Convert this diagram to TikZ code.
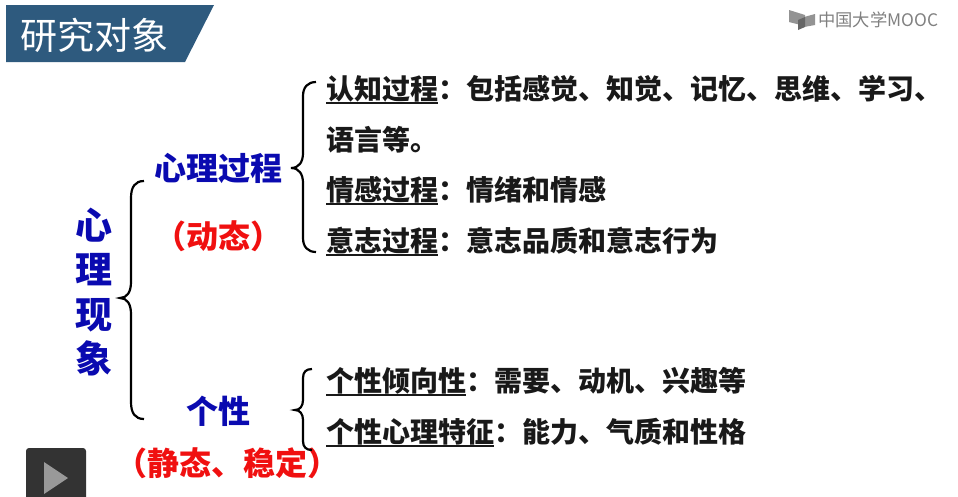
\documentclass[tikz,border=0pt]{standalone}
\usepackage{fontspec}
\setmainfont{Noto Sans CJK SC}
\usetikzlibrary{positioning}
\definecolor{headblue}{HTML}{2E5A7E}
\definecolor{termblue}{HTML}{0A0AB0}
\definecolor{termred}{HTML}{F01010}
\definecolor{logogray}{HTML}{808080}
\newcommand{\termline}[1]{\setbox0\hbox{#1}\rlap{\rule[-4.2pt]{\wd0}{1.5pt}}\box0}

\begin{document}
\begin{tikzpicture}[
    x=1pt, y=-1pt,
    body/.style={anchor=west, inner sep=0pt, text height=24.6pt, text depth=3.4pt, font=\fontsize{28}{28}\selectfont\bfseries, text=black!90},
    branch/.style={inner sep=0pt, text height=28.2pt, text depth=3.8pt, font=\fontsize{32}{32}\selectfont\bfseries, text=termblue},
    note/.style={branch, text=termred},
    rootword/.style={inner sep=0pt, text height=32.6pt, text depth=4.4pt, font=\fontsize{37}{37}\selectfont\bfseries, text=termblue},
    bracket/.style={draw=black, line width=2.2pt}
]
\useasboundingbox (0,0) rectangle (958,496);

% Title bar
\fill[headblue] (6,5) -- (214,5) -- (185,62) -- (6,62) -- cycle;
\node[anchor=west, inner sep=0pt, text=white, font=\fontsize{37}{37}\selectfont] (title) at (20,35) {研究对象};

% Logo
\fill[logogray!85] (789,10) -- (805,15) -- (805,26) -- (789,22) -- cycle;
\fill[logogray!85] (804,17) -- (815,14) -- (815,25) -- (804,27) -- cycle;
\fill[black!60] (798,20) -- (805,17) -- (805,27) -- (798,30) -- cycle;
\node[anchor=west, inner sep=0pt, text=logogray, font=\fontsize{17.3}{18}\selectfont] (logo) at (818,20) {中国大学MOOC};

% Root
\node[rootword] (root1) at (94,225) {心};
\node[rootword] (root2) at (94,269) {理};
\node[rootword] (root3) at (94,314) {现};
\node[rootword] (root4) at (94,358) {象};

% Branches
\node[branch] (process) at (218,168) {心理过程};
\node[note] (dynamic) at (218,236) {（动态）};
\node[branch] (person) at (218,411) {个性};
\node[note] (stable) at (227,463) {（静态、稳定）};

% Brackets
\draw[bracket] (144,181) .. controls (135,181) and (131,187) .. (131,198) -- (131,282)
    .. controls (131,292) and (127,298) .. (120,298) .. controls (127,298) and (131,304) .. (131,314)
    -- (131,402) .. controls (131,413) and (135,419) .. (144,419);
\draw[bracket] (316,82) .. controls (308,82) and (303,87) .. (303,96) -- (303,153)
    .. controls (303,162) and (299,168) .. (291,168) .. controls (299,168) and (303,174) .. (303,183)
    -- (303,238) .. controls (303,247) and (308,252) .. (316,252);
\draw[bracket] (312,369) .. controls (306,369) and (303,372) .. (303,378) -- (303,400)
    .. controls (303,406) and (300,410) .. (295,410) .. controls (300,410) and (303,414) .. (303,420)
    -- (303,441) .. controls (303,447) and (306,450) .. (312,450);

% Process items
\node[body] (cognition) at (326,89) {\termline{认知过程}：包括感觉、知觉、记忆、思维、学习、};
\node[body] (cognition2) at (326,140) {语言等。};
\node[body] (emotion) at (326,190) {\termline{情感过程}：情绪和情感};
\node[body] (will) at (326,241) {\termline{意志过程}：意志品质和意志行为};

% Personality items
\node[body] (tendency) at (326,381) {\termline{个性倾向性}：需要、动机、兴趣等};
\node[body] (traits) at (326,432) {\termline{个性心理特征}：能力、气质和性格};

% Play button
\fill[black!80, rounded corners=3pt] (26,448) -- (86,448) -- (86,500) -- (26,500) -- cycle;
\fill[black!40] (44,462) -- (68,478) -- (44,494) -- cycle;

\end{tikzpicture}
\end{document}
